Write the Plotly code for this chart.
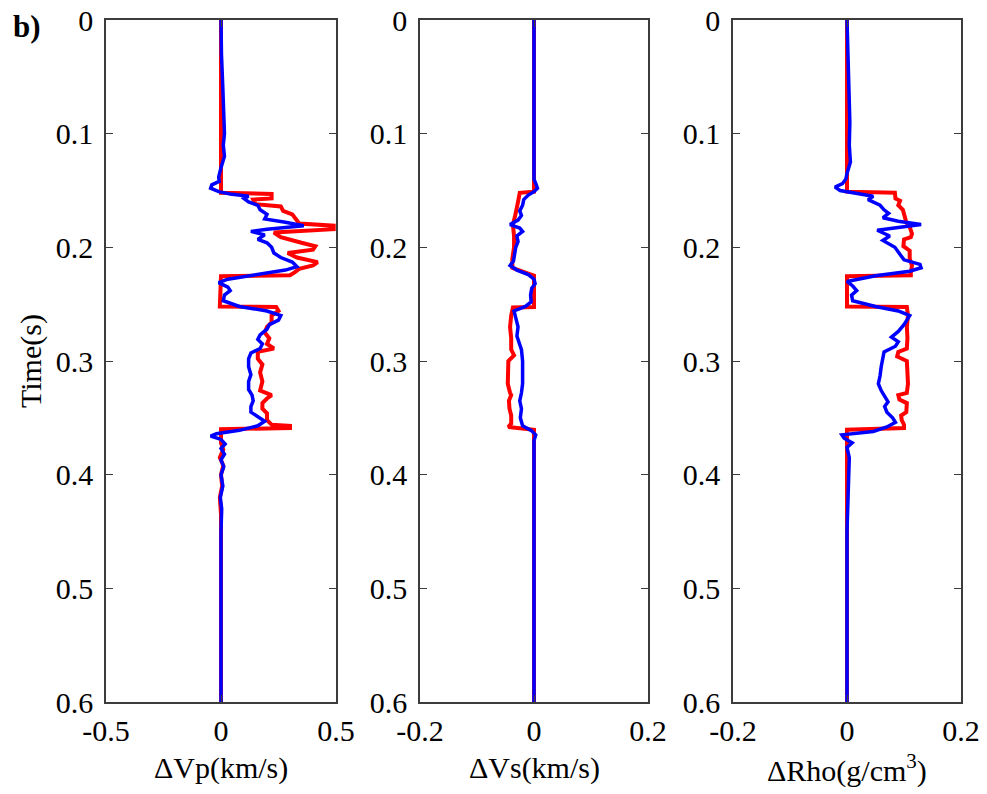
import plotly.graph_objects as go

# Time samples (s) and values for each elastic-parameter change.
# Red: true model (blocky log); blue: inverted result.

vp_true_t = [0, 0.10, 0.152, 0.153, 0.157, 0.158, 0.162, 0.164, 0.168, 0.171, 0.176, 0.179,
             0.181, 0.184, 0.187, 0.191, 0.196, 0.199, 0.202, 0.205, 0.209, 0.213, 0.216,
             0.219, 0.222, 0.2245, 0.2255, 0.24, 0.252, 0.2525, 0.256, 0.260, 0.266, 0.27,
             0.275, 0.28, 0.285, 0.289, 0.292, 0.298, 0.303, 0.31, 0.318, 0.326, 0.330,
             0.333, 0.337, 0.342, 0.346, 0.352, 0.356, 0.357, 0.359, 0.360, 0.372, 0.378,
             0.385, 0.392, 0.40, 0.41, 0.42, 0.435, 0.6]
vp_true = [0, 0, 0, 0.22, 0.22, 0.14, 0.15, 0.26, 0.27, 0.31, 0.33, 0.34,
           0.49, 0.49, 0.23, 0.26, 0.35, 0.41, 0.40, 0.29, 0.33, 0.42, 0.40,
           0.34, 0.32, 0.30, 0.0, -0.005, -0.005, 0.24, 0.25, 0.22, 0.22, 0.20,
           0.19, 0.21, 0.20, 0.23, 0.16, 0.16, 0.18, 0.17, 0.18, 0.17, 0.22,
           0.20, 0.18, 0.18, 0.20, 0.20, 0.22, 0.30, 0.30, 0.0, 0.0, 0.01,
           -0.005, 0.01, 0.0, 0.005, -0.005, 0.0, 0]

vp_inv_t = [0, 0.03, 0.06, 0.08, 0.10, 0.11, 0.12, 0.13, 0.138, 0.142, 0.145, 0.148, 0.151,
            0.153, 0.155, 0.157, 0.16, 0.163, 0.167, 0.171, 0.175, 0.178, 0.181, 0.184,
            0.186, 0.189, 0.193, 0.196, 0.2, 0.205, 0.209, 0.213, 0.217, 0.22, 0.224,
            0.228, 0.231, 0.235, 0.238, 0.242, 0.247, 0.252, 0.256, 0.26, 0.264, 0.268,
            0.272, 0.277, 0.281, 0.285, 0.289, 0.293, 0.298, 0.305, 0.312, 0.318, 0.325,
            0.33, 0.335, 0.34, 0.345, 0.349, 0.353, 0.357, 0.361, 0.364, 0.366, 0.369,
            0.373, 0.377, 0.382, 0.387, 0.393, 0.40, 0.41, 0.42, 0.43, 0.45, 0.6]
vp_inv = [0, 0.002, 0.008, 0.01, 0.015, 0.01, 0.015, 0.0, -0.01, -0.008, -0.04, -0.045, -0.01,
          0.04, 0.12, 0.10, 0.12, 0.16, 0.17, 0.20, 0.19, 0.28, 0.36, 0.20,
          0.13, 0.19, 0.16, 0.20, 0.22, 0.23, 0.26, 0.31, 0.33, 0.28, 0.15,
          0.03, -0.01, 0.03, 0.04, 0.015, 0.01, 0.08, 0.20, 0.26, 0.25, 0.21,
          0.20, 0.17, 0.16, 0.18, 0.17, 0.13, 0.12, 0.12, 0.13, 0.12, 0.12,
          0.135, 0.14, 0.13, 0.13, 0.16, 0.19, 0.16, 0.08, -0.02, -0.045, 0.0,
          0.018, 0.0, 0.015, 0.0, 0.012, 0.0, 0.008, -0.003, 0.003, 0.0, 0.0]

vs_true_t = [0, 0.151, 0.152, 0.158, 0.165, 0.172, 0.18, 0.19, 0.2, 0.21, 0.218, 0.225,
             0.24, 0.2525, 0.253, 0.26, 0.27, 0.28, 0.29, 0.295, 0.30, 0.31, 0.32, 0.328,
             0.33, 0.335, 0.342, 0.348, 0.355, 0.358, 0.3605, 0.6]
vs_true = [0, 0, -0.025, -0.028, -0.03, -0.033, -0.037, -0.035, -0.035, -0.038, -0.038, 0.0,
           0.0, 0.0, -0.037, -0.04, -0.042, -0.04, -0.04, -0.035, -0.045, -0.046, -0.046, -0.042,
           -0.04, -0.044, -0.043, -0.04, -0.04, -0.045, 0.0, 0]

vs_inv_t = [0, 0.14, 0.145, 0.148, 0.151, 0.154, 0.158, 0.163, 0.168, 0.172, 0.176, 0.18,
            0.183, 0.186, 0.19, 0.195, 0.2, 0.206, 0.212, 0.216, 0.22, 0.224, 0.228, 0.232,
            0.236, 0.242, 0.248, 0.252, 0.256, 0.262, 0.27, 0.278, 0.285, 0.29, 0.30, 0.31,
            0.32, 0.328, 0.335, 0.342, 0.35, 0.357, 0.361, 0.365, 0.37, 0.6]
vs_inv = [0, 0.0, 0.004, 0.006, 0.0, -0.01, -0.018, -0.02, -0.025, -0.022, -0.028, -0.042,
          -0.025, -0.02, -0.03, -0.028, -0.032, -0.034, -0.036, -0.042, -0.03, -0.01, 0.0, 0.002,
          -0.004, -0.006, -0.005, -0.015, -0.035, -0.032, -0.028, -0.03, -0.025, -0.022, -0.02, -0.02,
          -0.02, -0.022, -0.025, -0.022, -0.024, -0.02, -0.005, 0.003, 0.0, 0]

rho_true_t = [0, 0.151, 0.152, 0.157, 0.159, 0.163, 0.167, 0.172, 0.178, 0.182, 0.188, 0.191,
              0.193, 0.199, 0.203, 0.21, 0.216, 0.222, 0.2245, 0.2255, 0.252, 0.2525, 0.26,
              0.27, 0.28, 0.289, 0.292, 0.296, 0.30, 0.31, 0.32, 0.328, 0.33, 0.334, 0.337,
              0.345, 0.348, 0.352, 0.356, 0.359, 0.3605, 0.6]
rho_true = [0, 0, 0.084, 0.085, 0.093, 0.09, 0.098, 0.1, 0.104, 0.11, 0.114, 0.112,
            0.1, 0.099, 0.11, 0.11, 0.114, 0.112, 0.112, 0.0, 0.0, 0.105, 0.107,
            0.105, 0.106, 0.105, 0.09, 0.088, 0.105, 0.106, 0.107, 0.105, 0.09, 0.092, 0.105,
            0.104, 0.095, 0.096, 0.1, 0.1, 0.0, 0]

rho_inv_t = [0, 0.03, 0.06, 0.09, 0.11, 0.125, 0.135, 0.14, 0.144, 0.147, 0.150, 0.152,
             0.155, 0.158, 0.163, 0.167, 0.17, 0.174, 0.177, 0.18, 0.183, 0.185, 0.19,
             0.194, 0.2, 0.206, 0.211, 0.215, 0.218, 0.221, 0.225, 0.23, 0.234, 0.238,
             0.242, 0.247, 0.252, 0.256, 0.26, 0.264, 0.268, 0.274, 0.279, 0.283, 0.287,
             0.292, 0.298, 0.305, 0.313, 0.32, 0.326, 0.332, 0.336, 0.34, 0.345, 0.35,
             0.354, 0.358, 0.362, 0.365, 0.368, 0.372, 0.376, 0.385, 0.40, 0.42, 0.45, 0.6]
rho_inv = [0, 0.002, 0.004, 0.005, 0.004, 0.006, 0.0, -0.002, -0.008, -0.021, -0.012, 0.01,
           0.046, 0.037, 0.058, 0.065, 0.073, 0.063, 0.09, 0.13, 0.09, 0.053, 0.075,
           0.063, 0.084, 0.093, 0.1, 0.128, 0.13, 0.11, 0.05, 0.0, 0.01, 0.017,
           0.008, 0.01, 0.05, 0.09, 0.11, 0.105, 0.1, 0.09, 0.078, 0.09, 0.085,
           0.065, 0.062, 0.06, 0.058, 0.055, 0.06, 0.068, 0.072, 0.066, 0.07, 0.08,
           0.085, 0.07, 0.046, -0.009, -0.005, 0.009, 0.0, 0.004, 0.003, 0.002, 0.0, 0]

panels = [
    dict(tt=vp_true_t, true=vp_true, ti=vp_inv_t, inv=vp_inv,
         xr=[-0.5, 0.5], xt=[-0.5, 0, 0.5], xl=["-0.5", "0", "0.5"],
         label="ΔVp(km/s)"),
    dict(tt=vs_true_t, true=vs_true, ti=vs_inv_t, inv=vs_inv,
         xr=[-0.2, 0.2], xt=[-0.2, 0, 0.2], xl=["-0.2", "0", "0.2"],
         label="ΔVs(km/s)"),
    dict(tt=rho_true_t, true=rho_true, ti=rho_inv_t, inv=rho_inv,
         xr=[-0.2, 0.2], xt=[-0.2, 0, 0.2], xl=["-0.2", "0", "0.2"],
         label="ΔRho(g/cm<sup>3</sup>)"),
]

time_ticks = [0, 0.1, 0.2, 0.3, 0.4, 0.5, 0.6]
time_labels = ["0", "0.1", "0.2", "0.3", "0.4", "0.5", "0.6"]

W, H = 987, 794
x_px = [(106, 336), (420, 648), (733, 961)]
y_dom = [1 - 702 / H, 1 - 20 / H]

FONT = "Liberation Serif"
FS = 30
AX_COLOR = "#3c3c3c"

fig = go.Figure()
layout = dict(
    width=W, height=H,
    margin=dict(l=0, r=0, t=0, b=0),
    paper_bgcolor="white", plot_bgcolor="white",
    showlegend=False,
    font=dict(family=FONT, size=FS, color="black"),
    annotations=[],
)

for i, p in enumerate(panels):
    n = "" if i == 0 else str(i + 1)
    xa, ya = "x" + n, "y" + n
    fig.add_trace(go.Scatter(x=p["true"], y=p["tt"], mode="lines",
                             line=dict(color="#ff0000", width=4),
                             xaxis=xa, yaxis=ya))
    fig.add_trace(go.Scatter(x=p["inv"], y=p["ti"], mode="lines",
                             line=dict(color="#0000ff", width=3.5),
                             xaxis=xa, yaxis=ya))
    common = dict(showline=True, linecolor=AX_COLOR, linewidth=1.5, mirror="allticks",
                  ticks="inside", ticklen=7, tickwidth=1, tickcolor=AX_COLOR,
                  showgrid=False, zeroline=False, automargin=False,
                  tickfont=dict(family=FONT, size=FS, color="black"))
    layout["xaxis" + n] = dict(domain=[x_px[i][0] / W, x_px[i][1] / W],
                               range=p["xr"], tickvals=p["xt"], ticktext=p["xl"],
                               anchor=ya, ticklabelstandoff=1, **common)
    layout["yaxis" + n] = dict(domain=y_dom, range=[0.6, 0],
                               tickvals=time_ticks, ticktext=time_labels,
                               anchor=xa, ticklabelstandoff=5, **common)
    layout["annotations"].append(dict(
        text=p["label"], x=(x_px[i][0] + x_px[i][1]) / 2 / W, y=1 - 768 / H,
        xref="paper", yref="paper", showarrow=False,
        xanchor="center", yanchor="middle",
        font=dict(family=FONT, size=FS, color="black")))

layout["annotations"].append(dict(
    text="Time(s)", x=31 / W, y=1 - 361 / H, xref="paper", yref="paper",
    showarrow=False, textangle=-90, xanchor="center", yanchor="middle",
    font=dict(family=FONT, size=FS, color="black")))
layout["annotations"].append(dict(
    text="<b>b)</b>", x=27 / W, y=1 - 26 / H, xref="paper", yref="paper",
    showarrow=False, xanchor="center", yanchor="middle",
    font=dict(family=FONT, size=31, color="black")))

fig.update_layout(**layout)
fig.write_html("out.html")
